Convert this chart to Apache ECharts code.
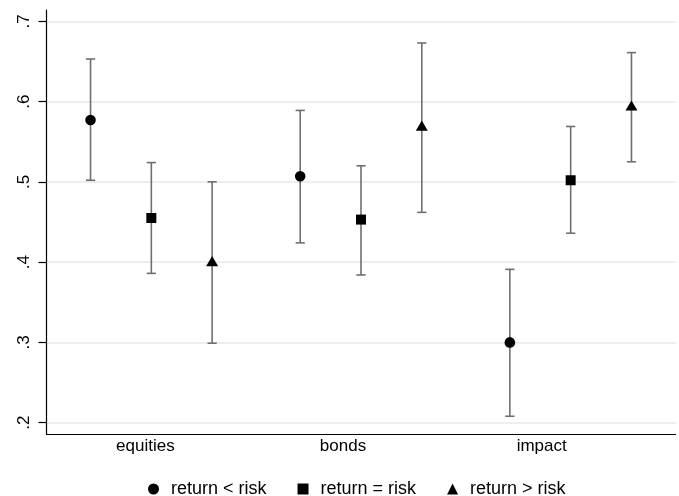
<!DOCTYPE html>
<html>
<head>
<meta charset="utf-8">
<script src="https://cdn.jsdelivr.net/npm/echarts@6/dist/echarts.min.js"></script>
<style>
  html, body { margin: 0; padding: 0; background: #fff; }
  #chart { width: 679px; height: 496px; }
</style>
</head>
<body>
<div id="chart"></div>
<script>
// asset classes on the x axis
const categories = ['equities', 'bonds', 'impact'];
const seriesNames = ['return < risk', 'return = risk', 'return > risk'];

// point estimates, per series, one per category
const meanLess = [0.577, 0.507, 0.300];
const meanEqual = [0.455, 0.453, 0.502];
const meanMore = [0.400, 0.569, 0.594];

// confidence bounds
const lowLess = [0.502, 0.424, 0.208];
const highLess = [0.653, 0.589, 0.391];
const lowEqual = [0.386, 0.384, 0.436];
const highEqual = [0.524, 0.520, 0.569];
const lowMore = [0.299, 0.462, 0.525];
const highMore = [0.500, 0.673, 0.661];

const yTicks = [0.2, 0.3, 0.4, 0.5, 0.6, 0.7];

// styling only
const shapes = ['circle', 'rect', 'triangle'];
const offsets = [-0.29, 0, 0.29];
const labelShift = [6, 18, 29];
const font = '"Liberation Sans", Arial, sans-serif';

const groups = [
  [meanLess, lowLess, highLess],
  [meanEqual, lowEqual, highEqual],
  [meanMore, lowMore, highMore]
];

function makeSeries(idx) {
  const [mean, low, high] = groups[idx];
  const data = categories.map((c, i) => [i, mean[i], low[i], high[i]]);
  return {
    name: seriesNames[idx],
    type: 'custom',
    data: data,
    encode: { x: 0, y: [1, 2, 3] },
    renderItem: function(params, api) {
      const band = api.size([1, 0])[0];
      const dx = band * offsets[idx];
      const c = api.coord([api.value(0), api.value(1)]);
      const lo = api.coord([api.value(0), api.value(2)]);
      const hi = api.coord([api.value(0), api.value(3)]);
      const x = c[0] + dx;
      const cap = 4.6;
      const barStyle = { stroke: '#6f6f6f', lineWidth: 1.6 };
      const children = [
        { type: 'line', shape: { x1: x, y1: lo[1], x2: x, y2: hi[1] }, style: barStyle },
        { type: 'line', shape: { x1: x - cap, y1: lo[1], x2: x + cap, y2: lo[1] }, style: barStyle },
        { type: 'line', shape: { x1: x - cap, y1: hi[1], x2: x + cap, y2: hi[1] }, style: barStyle }
      ];
      let marker;
      if (shapes[idx] === 'circle') {
        marker = { type: 'circle', shape: { cx: x, cy: c[1], r: 5.3 }, style: { fill: '#000' } };
      } else if (shapes[idx] === 'rect') {
        marker = { type: 'rect', shape: { x: x - 5, y: c[1] - 5, width: 10, height: 10 }, style: { fill: '#000' } };
      } else {
        marker = {
          type: 'polygon',
          shape: { points: [[x, c[1] - 6], [x + 6, c[1] + 4.2], [x - 6, c[1] + 4.2]] },
          style: { fill: '#000' }
        };
      }
      children.push(marker);
      return { type: 'group', children: children };
    }
  };
}

const chart = echarts.init(document.getElementById('chart'));
chart.setOption({
  animation: false,
  backgroundColor: '#fff',
  textStyle: { fontFamily: font },
  grid: { left: 46.5, right: 3.5, top: 10, bottom: 61.7 },
  legend: {
    left: 143,
    top: 475,
    itemWidth: 11,
    itemHeight: 11,
    itemGap: 31,
    data: seriesNames.map((n, i) => ({ name: n, icon: shapes[i], itemStyle: { color: '#000' } })),
    textStyle: { fontSize: 18, color: '#000', fontFamily: font, padding: [0, 0, 0, 7] }
  },
  xAxis: {
    type: 'category',
    data: categories,
    axisLine: { lineStyle: { color: '#000', width: 1.2 } },
    axisTick: { show: false },
    axisLabel: {
      fontSize: 17,
      color: '#000',
      margin: 4,
      formatter: function(v) {
        return '{c' + categories.indexOf(v) + '|' + v + '}';
      },
      rich: {
        c0: { fontSize: 17, fontFamily: font, padding: [0, labelShift[0] * 2, 0, 0] },
        c1: { fontSize: 17, fontFamily: font, padding: [0, labelShift[1] * 2, 0, 0] },
        c2: { fontSize: 17, fontFamily: font, padding: [0, labelShift[2] * 2, 0, 0] }
      }
    },
    splitLine: { show: false }
  },
  yAxis: {
    type: 'value',
    min: 0.1855,
    max: 0.7141,
    axisLine: { show: true, lineStyle: { color: '#000', width: 1.2 } },
    axisTick: { show: true, inside: false, length: 8, customValues: yTicks, lineStyle: { color: '#000', width: 1.2 } },
    axisLabel: {
      customValues: yTicks,
      rotate: 90,
      margin: 14,
      fontSize: 17,
      color: '#000',
      formatter: v => String(Math.round(v * 10) / 10).replace(/^0/, '')
    },
    splitLine: { show: true, lineStyle: { color: '#e8e8e8', width: 1.5 } }
  },
  series: [makeSeries(0), makeSeries(1), makeSeries(2)]
});
</script>
</body>
</html>
